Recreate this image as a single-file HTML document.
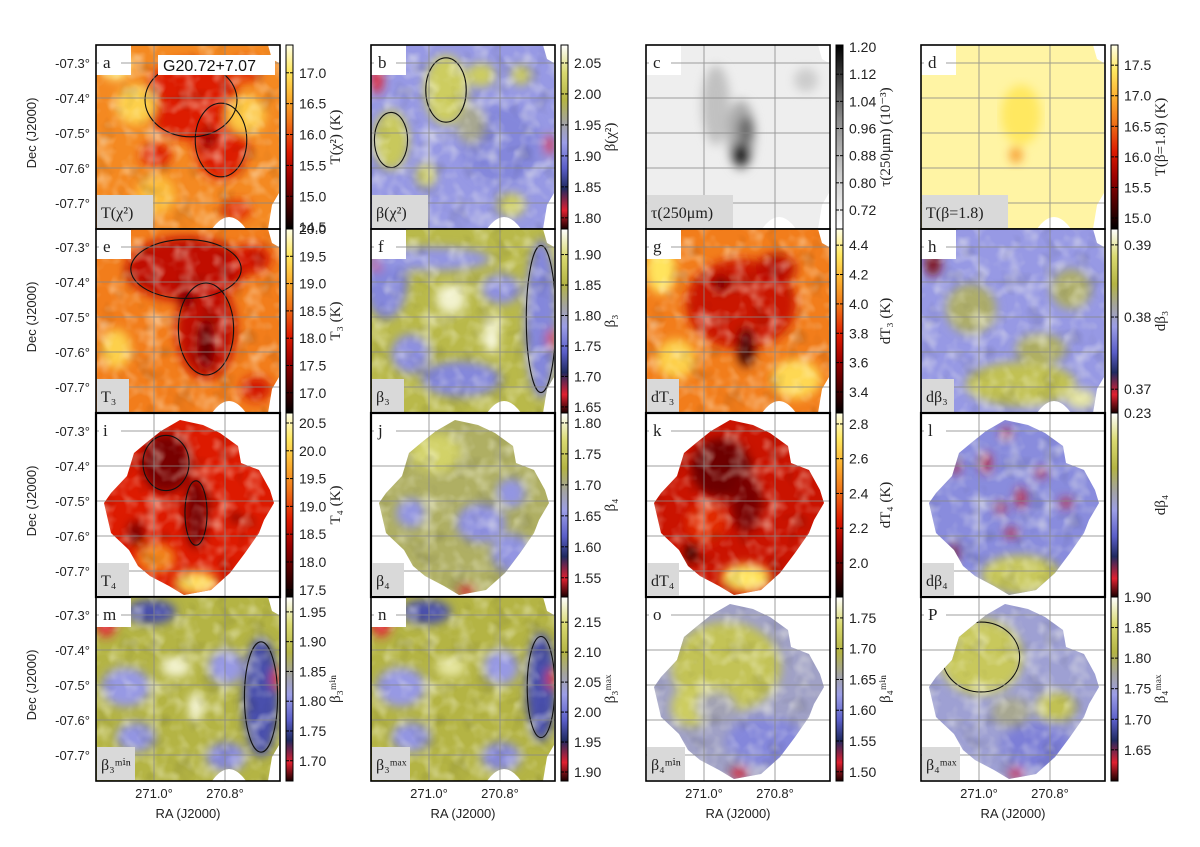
<!DOCTYPE html>
<html><head><meta charset="utf-8"><style>
html,body{margin:0;padding:0;background:#fff;}
svg text{font-family:"Liberation Sans","DejaVu Sans",sans-serif;}
.serif{font-family:"Liberation Serif","DejaVu Serif",serif !important;}
</style></head><body>
<svg id="fig" width="1200" height="842" viewBox="0 0 1200 842" xmlns="http://www.w3.org/2000/svg">
<defs>
<filter id="noise" x="0" y="0" width="100%" height="100%">
<feTurbulence type="fractalNoise" baseFrequency="0.06" numOctaves="2" seed="3"/>
<feColorMatrix type="matrix" values="0 0 0 0 1  0 0 0 0 1  0 0 0 0 0.85  0 0 0 -2.2 1.25"/>
</filter>
<filter id="noise2" x="0" y="0" width="100%" height="100%">
<feTurbulence type="fractalNoise" baseFrequency="0.05" numOctaves="2" seed="11"/>
<feColorMatrix type="matrix" values="0 0 0 0 0  0 0 0 0 0  0 0 0 0 0  0 0 0 2.2 -1.2"/>
</filter>
<filter id="blur6"><feGaussianBlur stdDeviation="5"/></filter>
</defs>
</svg>
<script>
// ---- colorbar data (tick labels and ranges) ----
const cbMin = [14.47, 1.782, 0.664, 14.82, 16.63, 1.64, 3.257, 0.3667, 17.37, 1.519, 1.804, 0.17, 1.666, 1.885, 1.485, 1.599];
const cbMax = [17.45, 2.079, 1.206, 17.83, 20.0, 1.942, 4.51, 0.3922, 20.68, 1.816, 2.863, 0.23, 1.975, 2.192, 1.784, 1.90];
const cbTicks = [
 ["14.5","15.0","15.5","16.0","16.5","17.0"],
 ["1.80","1.85","1.90","1.95","2.00","2.05"],
 ["0.72","0.80","0.88","0.96","1.04","1.12","1.20"],
 ["15.0","15.5","16.0","16.5","17.0","17.5"],
 ["17.0","17.5","18.0","18.5","19.0","19.5","20.0"],
 ["1.65","1.70","1.75","1.80","1.85","1.90"],
 ["3.4","3.6","3.8","4.0","4.2","4.4"],
 ["0.37","0.38","0.39"],
 ["17.5","18.0","18.5","19.0","19.5","20.0","20.5"],
 ["1.55","1.60","1.65","1.70","1.75","1.80"],
 ["2.0","2.2","2.4","2.6","2.8"],
 ["0.23"],
 ["1.70","1.75","1.80","1.85","1.90","1.95"],
 ["1.90","1.95","2.00","2.05","2.10","2.15"],
 ["1.50","1.55","1.60","1.65","1.70","1.75"],
 ["1.65","1.70","1.75","1.80","1.85","1.90"]
];
const cbLabels = ["T(χ²) (K)","β(χ²)","τ(250μm) (10⁻³)","T(β=1.8) (K)","T₃ (K)","β₃","dT₃ (K)","dβ₃","T₄ (K)","β₄","dT₄ (K)","dβ₄","β₃ᵐⁱⁿ","β₃ᵐᵃˣ","β₄ᵐⁱⁿ","β₄ᵐᵃˣ"];
const panelLetters = ["a","b","c","d","e","f","g","h","i","j","k","l","m","n","o","P"];
const mapLabels = ["T(χ²)","β(χ²)","τ(250μm)","T(β=1.8)","T₃","β₃","dT₃","dβ₃","T₄","β₄","dT₄","dβ₄","β₃ᵐⁱⁿ","β₃ᵐᵃˣ","β₄ᵐⁱⁿ","β₄ᵐᵃˣ"];
const decTicks = ["-07.3°","-07.4°","-07.5°","-07.6°","-07.7°"];
const decVals = [-7.3,-7.4,-7.5,-7.6,-7.7];
const raTicks = ["271.0°","270.8°"];
const raVals = [271.0, 270.8];
const cmapType = ["hot","beta","gray","hot","hot","beta","hot","beta","hot","beta","hot","beta","beta","beta","beta","beta"];
const shapeType = ["rect","rect","rect","rect","rect","rect","rect","rect","dia","dia","dia","dia","rect","rect","dia","dia"];
const baseT = [0.63,0.46,0.1,0.93,0.6,0.72,0.6,0.46,0.42,0.66,0.38,0.43,0.7,0.7,0.52,0.5];
// image features: [cx, cy, rx, ry, t, contour]
const blobs = [
 [[95,55,50,40,0.42,1],[125,95,28,40,0.42,1],[60,110,15,12,0.42,0],[150,25,15,12,0.45,0],[112,95,8,10,0.28,0],[40,60,20,20,0.8,0],[150,70,20,20,0.78,0],[20,20,15,15,0.9,0],[140,165,15,10,0.45,0],[60,150,20,20,0.75,0]],
 [[75,45,22,35,0.8,1],[110,30,14,12,0.8,0],[20,95,18,30,0.78,1],[55,130,10,12,0.8,0],[140,160,14,12,0.8,0],[150,30,10,10,0.78,0],[6,35,6,14,0.1,0],[178,100,4,10,0.1,0],[130,100,40,40,0.42,0],[100,80,15,20,0.6,0]],
 [[70,60,14,40,0.35,0],[95,90,14,35,0.45,0],[95,110,9,12,0.97,0],[100,85,8,14,0.7,0],[160,35,12,12,0.3,0]],
 [[100,90,6,10,0.72,0],[95,110,6,8,0.66,0],[100,70,20,30,0.86,0]],
 [[90,40,60,32,0.36,1],[110,100,30,50,0.36,1],[110,115,9,25,0.18,0],[90,70,8,8,0.2,0],[155,30,20,15,0.4,0],[20,120,15,20,0.8,0],[160,160,15,12,0.4,0]],
 [[15,50,22,40,0.42,0],[170,90,16,80,0.42,1],[90,150,40,18,0.42,0],[130,60,20,15,0.44,0],[40,125,20,20,0.44,0],[6,30,6,12,0.1,0],[180,110,4,10,0.1,0],[80,70,15,15,0.95,0],[120,105,8,20,0.95,0],[60,30,60,12,0.45,0]],
 [[95,75,55,45,0.38,0],[100,118,9,20,0.12,0],[75,55,8,8,0.2,0],[130,40,20,15,0.35,0],[15,40,15,25,0.85,0],[150,150,25,20,0.82,0],[30,130,20,20,0.8,0]],
 [[100,155,55,22,0.75,0],[120,120,25,15,0.66,0],[50,80,25,25,0.65,0],[150,60,20,20,0.65,0],[12,35,8,12,0.05,0],[160,170,15,10,0.9,0]],
 [[70,50,25,30,0.22,1],[100,100,12,35,0.22,1],[40,120,8,12,0.22,0],[100,170,22,12,0.82,0],[60,145,20,15,0.62,0],[140,105,5,5,0.2,0]],
 [[65,40,25,20,0.82,0],[110,110,25,20,0.44,0],[140,80,15,15,0.45,0],[95,178,8,5,0.1,0],[40,100,15,15,0.45,0],[140,140,20,20,0.45,0]],
 [[75,55,30,30,0.2,0],[100,90,15,30,0.22,0],[100,165,25,14,0.85,0],[45,140,5,10,0.05,0],[60,110,20,20,0.45,0]],
 [[100,162,40,20,0.78,0],[65,50,5,10,0.12,0],[100,85,5,10,0.12,0],[145,90,6,5,0.12,0],[90,120,6,5,0.12,0],[80,95,5,5,0.12,0],[120,60,5,5,0.12,0],[35,55,4,6,0.12,0],[33,140,4,10,0.05,0],[85,20,5,5,0.12,0]],
 [[165,100,18,60,0.3,1],[55,15,25,12,0.3,0],[10,25,10,15,0.1,0],[180,82,4,10,0.1,0],[80,70,15,10,0.95,0],[100,110,8,15,0.95,0],[130,160,20,15,0.44,0],[40,140,20,15,0.45,0],[30,90,25,20,0.46,0],[130,70,18,18,0.46,0]],
 [[170,90,15,55,0.3,1],[55,15,25,12,0.3,0],[10,25,10,15,0.1,0],[180,82,4,10,0.1,0],[80,70,15,10,0.9,0],[130,160,20,15,0.44,0],[40,140,20,15,0.45,0],[30,90,25,20,0.46,0],[130,70,18,18,0.46,0]],
 [[80,70,55,45,0.76,0],[45,110,20,20,0.8,0],[120,145,40,25,0.42,0],[93,176,8,6,0.1,0],[70,110,20,15,0.55,0]],
 [[60,60,42,38,0.78,1],[135,110,20,15,0.75,0],[115,150,35,25,0.4,0],[95,176,7,5,0.1,0],[90,115,20,15,0.6,0]]
];
const diaPts = [[65,18],[84,7],[107,12],[124,20],[142,33],[145,50],[163,57],[174,77],[178,90],[168,107],[163,120],[149,140],[134,160],[115,177],[88,182],[73,173],[54,163],[42,153],[33,137],[15,120],[8,90],[15,80],[31,63],[38,40],[50,30]];
const rectPath = "M35,0 L172,0 L176,14 L183,18 L183,148 L176,160 L172,184 L150,184 Q133,160 116,184 L0,184 L0,30 L35,30 Z";

// ---- colormaps ----
const cmaps = {
 hot: [[0,"#000000"],[0.28,"#9a0000"],[0.42,"#dd1a00"],[0.58,"#f07418"],[0.72,"#fbb030"],[0.86,"#ffe860"],[1,"#ffffe8"]],
 beta: [[0,"#1a0000"],[0.1,"#e02030"],[0.22,"#202a60"],[0.33,"#5a5ec8"],[0.47,"#9c9ee6"],[0.58,"#a4a4a0"],[0.7,"#b4b444"],[0.85,"#dada70"],[1,"#ffffff"]],
 gray: [[0,"#ffffff"],[0.3,"#cccccc"],[0.6,"#8a8a8a"],[1,"#000000"]]
};
function hex(c){return [parseInt(c.slice(1,3),16),parseInt(c.slice(3,5),16),parseInt(c.slice(5,7),16)];}
function cmapColor(name,t){
 const s=cmaps[name]; t=Math.max(0,Math.min(1,t));
 for(let i=1;i<s.length;i++){ if(t<=s[i][0]){ const a=hex(s[i-1][1]),b=hex(s[i][1]); const f=(t-s[i-1][0])/(s[i][0]-s[i-1][0]);
   return "rgb("+a.map((v,k)=>Math.round(v+(b[k]-v)*f)).join(",")+")"; } }
 return s[s.length-1][1];
}
const NS="http://www.w3.org/2000/svg";
const svg=document.getElementById("fig");
const defs=svg.querySelector("defs");
function mk(tag,attrs,parent){const e=document.createElementNS(NS,tag);for(const k in attrs)e.setAttribute(k,attrs[k]);(parent||svg).appendChild(e);return e;}

for(const name in cmaps){
 const g=mk("linearGradient",{id:"cm-"+name,x1:0,y1:1,x2:0,y2:0},defs);
 cmaps[name].forEach(s=>mk("stop",{offset:s[0],"stop-color":s[1]},g));
}

const colX=[96,371,646,921], rowY=[45,229,413,597], PW=184, PH=184;
function decY(row,v){return rowY[row]+18+(-7.3-v)/0.1*35;}
function raX(col,v){return colX[col]+58+(271.0-v)/0.2*71;}
function cbY(i,v){const r=Math.floor(i/4);return rowY[r]+PH-(v-cbMin[i])/(cbMax[i]-cbMin[i])*PH;}

for(let i=0;i<16;i++){
 const r=Math.floor(i/4), c=i%4, x0=colX[c], y0=rowY[r];
 const g=mk("g",{transform:"translate("+x0+","+y0+")"});
 
 
 const cp=mk("clipPath",{id:"clip"+i},defs);
 let d = shapeType[i]==="rect" ? rectPath : "M"+diaPts.map(p=>p.join(",")).join(" L")+" Z";
 mk("path",{d:d},cp);
 const pc=mk("clipPath",{id:"pclip"+i},defs); mk("rect",{x:0,y:0,width:PW,height:PH},pc);
 const mg=mk("g",{"clip-path":"url(#clip"+i+")"},g);
 mk("rect",{x:0,y:0,width:PW,height:PH,fill:cmapColor(cmapType[i],baseT[i])},mg);
 const bg=mk("g",{filter:"url(#blur6)"},mg);
 blobs[i].forEach(b=>mk("ellipse",{cx:b[0],cy:b[1],rx:b[2],ry:b[3],fill:cmapColor(cmapType[i],b[4])},bg));
 if(cmapType[i]!=="gray" && i!==3){
  mk("rect",{x:0,y:0,width:PW,height:PH,filter:"url(#noise)",opacity:0.45},mg);
  mk("rect",{x:0,y:0,width:PW,height:PH,filter:"url(#noise2)",opacity:0.15},mg);
 }
 blobs[i].forEach(b=>{ if(b[5]) mk("ellipse",{cx:b[0],cy:b[1],rx:b[2]*0.92,ry:b[3]*0.92,fill:"none",stroke:"#111","stroke-width":1.1},mg); });
 const gg=mk("g",{stroke:"#888","stroke-width":1,opacity:0.8,"clip-path":"url(#pclip"+i+")"},g);
 decVals.forEach(v=>mk("line",{x1:0,x2:PW,y1:decY(r,v)-y0,y2:decY(r,v)-y0},gg));
 raVals.forEach(v=>mk("line",{y1:0,y2:PH,x1:raX(c,v)-x0,x2:raX(c,v)-x0},gg));
 const fr=mk("rect",{x:0,y:0,width:PW,height:PH,fill:"none",stroke:"#000","stroke-width":r===2?2.2:1.6},g);
 
 
 mk("rect",{x:3,y:6,width:22,height:22,fill:"#fff"},g);
 const lt=mk("text",{x:7,y:23,"font-size":17,class:"serif",fill:"#222"},g); lt.textContent=panelLetters[i];
 
 
 const lw = (i===0||i===1)?56:(i===2||i===3)?86:(i>=12?38:32);
 mk("rect",{x:1,y:PH-34,width:lw,height:33,fill:"#d9d9d9"},g);
 const ml=mk("text",{x:5,y:PH-11,"font-size":16,class:"serif",fill:"#222"},g); ml.textContent=mapLabels[i];
 
 
 const cx=x0+190, cw=7;
 const cb=mk("rect",{x:cx,y:y0,width:cw,height:PH,fill:"url(#cm-"+cmapType[i]+")",stroke:"#000","stroke-width":1});
 
 
 cbTicks[i].forEach(t=>{
  const yy=cbY(i,parseFloat(t));
  mk("line",{x1:cx,x2:cx+3,y1:yy,y2:yy,stroke:"#000","stroke-width":1});
  mk("line",{x1:cx+cw-3,x2:cx+cw,y1:yy,y2:yy,stroke:"#000","stroke-width":1});
  const tl=mk("text",{x:cx+13,y:yy+5,"font-size":14,fill:"#222"}); tl.textContent=t;
  
  
 });
 const lx=cx+54, ly=y0+PH/2;
 const cl=mk("text",{x:lx,y:ly,"font-size":15,class:"serif",fill:"#222","text-anchor":"middle",transform:"rotate(-90 "+lx+" "+ly+")"});
 cl.textContent=cbLabels[i];
 
 
 if(c===0){
  decVals.forEach((v,k)=>{ const t=mk("text",{x:x0-6,y:decY(r,v)+5,"font-size":13,fill:"#222","text-anchor":"end"}); t.textContent=decTicks[k];
   
    });
  const dy=y0+88;
  const dl=mk("text",{x:36,y:dy,"font-size":13,fill:"#222","text-anchor":"middle",transform:"rotate(-90 36 "+dy+")"}); dl.textContent="Dec (J2000)";
  
  
 }
 if(r===3){
  raVals.forEach((v,k)=>{ const t=mk("text",{x:raX(c,v),y:y0+PH+17,"font-size":13,fill:"#222","text-anchor":"middle"}); t.textContent=raTicks[k];
   
    });
  const rl=mk("text",{x:x0+92,y:y0+PH+37,"font-size":13,fill:"#222","text-anchor":"middle"}); rl.textContent="RA (J2000)";
  
  
 }
}
mk("rect",{x:158,y:55,width:117,height:20,fill:"#fff"});
const sn=mk("text",{x:163,y:71,"font-size":16,fill:"#111"}); sn.textContent="G20.72+7.07";


</script>
</body></html>
